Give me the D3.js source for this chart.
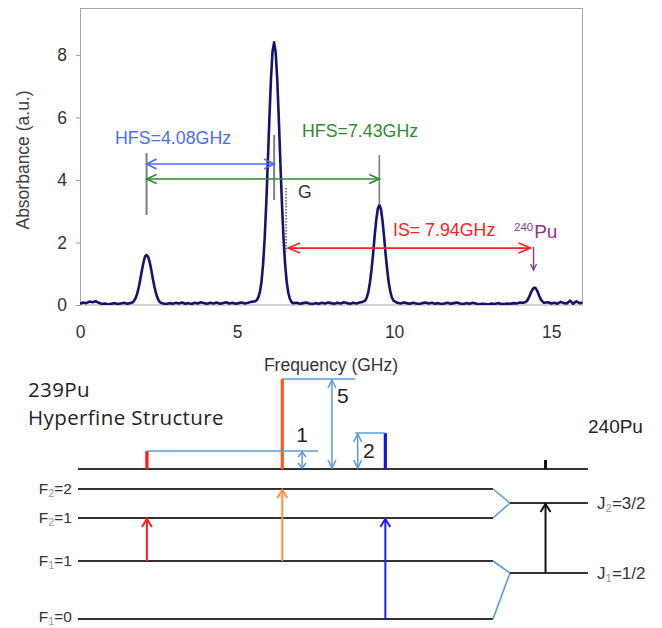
<!DOCTYPE html>
<html><head><meta charset="utf-8">
<script src="https://cdn.jsdelivr.net/npm/d3@7"></script>
<style>body{margin:0;background:#fff}svg{display:block}</style>
</head><body>
<svg id="chart" width="662" height="628"></svg>
<script>
// Absorption spectrum of Pu (frequency offset in GHz vs absorbance)
const freqGHz = [
  0.0,0.1,0.2,0.3,0.4,0.5,0.6,0.7,0.8,0.9,1.0,1.1,1.2,1.3,1.4,1.5,1.6,
  1.67,1.72,1.77,1.82,1.87,1.92,1.97,2.02,2.07,2.12,2.17,2.22,2.27,2.32,2.37,2.42,2.47,2.52,2.57,
  2.65,2.75,2.85,2.95,3.05,3.15,3.25,3.35,3.45,3.55,3.65,3.75,3.85,3.95,4.05,4.15,4.25,4.35,4.45,4.55,4.65,4.75,4.85,4.95,5.05,5.15,5.25,5.35,5.45,
  5.58,5.63,5.68,5.73,5.78,5.83,5.88,5.93,5.98,6.03,6.08,6.13,6.18,6.23,6.28,6.33,6.38,6.43,6.48,6.53,6.58,6.63,6.68,6.73,6.78,
  6.9,7.0,7.1,7.2,7.3,7.4,7.5,7.6,7.7,7.8,7.9,8.0,8.1,8.2,8.3,8.4,8.5,8.6,8.7,8.8,8.9,9.0,
  9.08,9.13,9.18,9.23,9.28,9.33,9.38,9.43,9.48,9.53,9.58,9.63,9.68,9.73,9.78,9.83,9.88,9.93,9.98,
  10.1,10.2,10.3,10.4,10.5,10.6,10.7,10.8,10.9,11.0,11.1,11.2,11.3,11.4,11.5,11.6,11.7,11.8,11.9,12.0,
  12.1,12.2,12.3,12.4,12.5,12.6,12.7,12.8,12.9,13.0,13.1,13.2,13.3,13.4,13.5,13.6,13.7,13.8,13.9,14.0,14.1,
  14.17,14.22,14.27,14.32,14.37,14.42,14.47,14.52,14.57,14.62,14.67,14.72,14.77,
  14.9,15.0,15.1,15.2,15.3,15.4,15.5,15.6,15.7,15.8,15.9,16.0
];
const absorbance = [
  0.04,0.08,0.06,0.11,0.09,0.12,0.07,0.03,0.05,0.02,0.04,0.06,0.03,0.05,0.07,0.04,0.06,
  0.08,0.13,0.22,0.36,0.57,0.82,1.10,1.36,1.55,1.60,1.54,1.37,1.12,0.83,0.58,0.37,0.22,0.12,0.07,
  0.05,0.03,0.06,0.04,0.07,0.05,0.08,0.04,0.06,0.03,0.07,0.05,0.09,0.06,0.04,0.07,0.05,0.08,0.04,0.06,0.09,0.05,0.07,0.04,0.06,0.08,0.05,0.07,0.10,
  0.12,0.16,0.25,0.43,0.76,1.32,2.15,3.26,4.58,5.99,7.25,8.12,8.40,8.08,7.20,5.93,4.52,3.22,2.12,1.30,0.74,0.40,0.20,0.10,0.06,
  0.07,0.04,0.06,0.08,0.05,0.03,0.06,0.04,0.07,0.05,0.08,0.06,0.04,0.07,0.05,0.09,0.06,0.04,0.07,0.05,0.08,0.10,
  0.14,0.24,0.42,0.72,1.12,1.63,2.20,2.71,3.08,3.20,3.07,2.70,2.19,1.62,1.12,0.71,0.42,0.24,0.14,
  0.07,0.05,0.08,0.06,0.04,0.07,0.05,0.03,0.06,0.08,0.05,0.07,0.04,0.06,0.03,0.05,0.07,0.04,0.06,0.08,
  0.05,0.03,0.06,0.04,0.07,0.05,0.02,0.04,0.03,0.02,0.05,0.03,0.06,0.04,0.03,0.05,0.04,0.06,0.05,0.08,0.07,
  0.09,0.12,0.20,0.31,0.43,0.52,0.56,0.52,0.42,0.29,0.18,0.11,0.07,
  0.09,0.05,0.07,0.04,0.10,0.06,0.05,0.14,0.04,0.12,0.06,0.07
];
const xTicks = [0, 5, 10, 15];
const yTicks = [0, 2, 4, 6, 8];

// Peak positions (GHz) and their heights: 239Pu a, b, c and 240Pu
const peakFreq = [2.12, 6.18, 9.53, 14.47];
const peakAbs  = [1.60, 8.40, 3.20, 0.56];
const hfsText = ["HFS=4.08GHz", "HFS=7.43GHz"];
const isText = "IS= 7.94GHz";
const gFreq = 6.56;

// Stick spectrum of the 239Pu hyperfine components (relative strengths 1 : 5 : 2)
const stickFreq = [2.13, 6.44, 9.72];
const stickRatio = [1, 5, 2];
const stickLabel = ["1", "5", "2"];
const pu240Freq = 14.82;

const svg = d3.select("#chart");
const FONT = "'Liberation Sans', Arial, sans-serif";
const x = d3.scaleLinear().domain([0, 16]).range([80, 582.6]);
const y = d3.scaleLinear().domain([0, 9.5]).range([305, 8]);

// open chevron arrow head; (dx,dy) is the direction of travel
function head(g, tx, ty, dx, dy, len, half, color, w) {
  const bx = tx - dx * len, by = ty - dy * len;
  const px = -dy, py = dx;
  g.append("path")
    .attr("d", `M${bx + px * half},${by + py * half}L${tx},${ty}L${bx - px * half},${by - py * half}`)
    .attr("fill", "none").attr("stroke", color).attr("stroke-width", w)
    .attr("stroke-linejoin", "miter");
}
function hArrow(g, x1, x2, yy, color, w, len, half, both) {
  g.append("line").attr("x1", x1).attr("x2", x2).attr("y1", yy).attr("y2", yy)
    .attr("stroke", color).attr("stroke-width", w);
  head(g, x2, yy, 1, 0, len, half, color, w);
  if (both) head(g, x1, yy, -1, 0, len, half, color, w);
}
function vArrow(g, xx, y1, y2, color, w, len, half, both) {
  g.append("line").attr("x1", xx).attr("x2", xx).attr("y1", y1).attr("y2", y2)
    .attr("stroke", color).attr("stroke-width", w);
  const d = y2 < y1 ? -1 : 1;
  head(g, xx, y2, 0, d, len, half, color, w);
  if (both) head(g, xx, y1, 0, -d, len, half, color, w);
}

// ---------- spectrum panel ----------
const panel = svg.append("g").attr("font-family", FONT);
panel.append("defs").append("clipPath").attr("id", "plotClip")
  .append("rect").attr("x", 80).attr("y", 8).attr("width", 502.6).attr("height", 297);

panel.append("rect").attr("x", 80.5).attr("y", 8.5).attr("width", 502).attr("height", 296.5)
  .attr("fill", "none").attr("stroke", "#a6a6a6").attr("stroke-width", 1);

const yAxis = panel.append("g").attr("transform", "translate(80,0)")
  .call(d3.axisLeft(y).tickValues(yTicks).tickSize(4).tickPadding(9).tickFormat(d3.format("d")));
yAxis.select(".domain").remove();
yAxis.selectAll("line").attr("stroke", "#999");
yAxis.selectAll("text").attr("font-size", 17.5).attr("fill", "#333").attr("font-family", FONT);

const xAxis = panel.append("g").attr("transform", "translate(0,305)")
  .call(d3.axisBottom(x).tickValues(xTicks).tickSize(0).tickPadding(21).tickFormat(d3.format("d")));
xAxis.select(".domain").remove();
xAxis.selectAll("text").attr("font-size", 17.5).attr("fill", "#333").attr("font-family", FONT);

panel.append("text").attr("transform", "translate(29,160) rotate(-90)")
  .attr("text-anchor", "middle").attr("font-size", 17.5).attr("fill", "#404040")
  .text("Absorbance (a.u.)");
panel.append("text").attr("x", 331).attr("y", 371).attr("text-anchor", "middle")
  .attr("font-size", 17.5).attr("fill", "#333").text("Frequency (GHz)");

// spectrum trace
const spec = d3.zip(freqGHz, absorbance);
panel.append("path").datum(spec)
  .attr("clip-path", "url(#plotClip)")
  .attr("d", d3.line().x(d => x(d[0])).y(d => y(d[1])))
  .attr("fill", "none").attr("stroke", "#14146e").attr("stroke-width", 2.6)
  .attr("stroke-linejoin", "round");

// annotations
const ann = panel.append("g");
const gray = "#7f7f7f";
ann.append("line").attr("x1", x(peakFreq[0])).attr("x2", x(peakFreq[0]))
  .attr("y1", y(4.86)).attr("y2", y(2.88)).attr("stroke", gray).attr("stroke-width", 2);
ann.append("line").attr("x1", x(peakFreq[1])).attr("x2", x(peakFreq[1]))
  .attr("y1", y(5.44)).attr("y2", y(3.36)).attr("stroke", gray).attr("stroke-width", 2);
ann.append("line").attr("x1", x(peakFreq[2])).attr("x2", x(peakFreq[2]))
  .attr("y1", y(4.80)).attr("y2", y(peakAbs[2])).attr("stroke", gray).attr("stroke-width", 1.6);
ann.append("line").attr("x1", x(gFreq)).attr("x2", x(gFreq))
  .attr("y1", y(3.74)).attr("y2", y(1.70)).attr("stroke", "#555")
  .attr("stroke-width", 1.5).attr("stroke-dasharray", "1.5,1.5");

const blue = "#4a6cf5", green = "#2e8b2e", red = "#ff2020", purple = "#8a3a86";
hArrow(ann, x(peakFreq[0]), x(peakFreq[1]), y(4.51), blue, 1.6, 10, 5, true);
hArrow(ann, x(peakFreq[0]), x(peakFreq[2]), y(4.03), green, 1.6, 10, 4.5, true);
hArrow(ann, x(gFreq) + 2, x(peakFreq[3]) - 4, y(1.82), red, 1.6, 12, 5, true);
vArrow(ann, x(peakFreq[3]) - 1, y(1.86), y(1.12), purple, 1.4, 6, 3, false);

ann.append("text").attr("x", 115).attr("y", 144).attr("font-size", 17.8).attr("fill", blue).text(hfsText[0]);
ann.append("text").attr("x", 302).attr("y", 137).attr("font-size", 17.8).attr("fill", green).text(hfsText[1]);
ann.append("text").attr("x", 393).attr("y", 236).attr("font-size", 17.8).attr("fill", red).text(isText);
ann.append("text").attr("x", 298).attr("y", 198).attr("font-size", 17.5).attr("fill", "#333").text("G");
const puT = ann.append("text").attr("x", 514).attr("y", 238).attr("fill", purple);
puT.append("tspan").attr("font-size", 11.5).attr("dy", -7).text("240");
puT.append("tspan").attr("font-size", 19).attr("dy", 7).attr("dx", 1).text("Pu");

// ---------- hyperfine level diagram ----------
const L = { ref: 469, F22: 489, F21: 518, J2: 503, F11: 561, J1: 573, F10: 619,
            left: 78, split: 493, merge: 510, right: 588 };
const dg = svg.append("g").attr("font-family", FONT);
const dark = "#333", lightBlue = "#5b9bd5";

// frequency reference line and F/J levels
dg.append("line").attr("x1", L.left).attr("x2", L.right).attr("y1", L.ref).attr("y2", L.ref)
  .attr("stroke", dark).attr("stroke-width", 2);
[["F22", "J2"], ["F21", "J2"], ["F11", "J1"], ["F10", "J1"]].forEach(([f, j]) => {
  dg.append("line").attr("x1", L.left).attr("x2", L.split).attr("y1", L[f]).attr("y2", L[f])
    .attr("stroke", dark).attr("stroke-width", 2);
  dg.append("line").attr("x1", L.split).attr("x2", L.merge).attr("y1", L[f]).attr("y2", L[j])
    .attr("stroke", lightBlue).attr("stroke-width", 1.6);
});
["J2", "J1"].forEach(j => dg.append("line").attr("x1", L.merge).attr("x2", L.right)
  .attr("y1", L[j]).attr("y2", L[j]).attr("stroke", dark).attr("stroke-width", 2));

// level labels with subscripts
[["F", "2", "=2", L.F22], ["F", "2", "=1", L.F21], ["F", "1", "=1", L.F11], ["F", "1", "=0", L.F10 - 2]]
  .forEach(([a, s, b, yy]) => {
    const t = dg.append("text").attr("x", 72).attr("y", yy + 5).attr("text-anchor", "end")
      .attr("font-size", 15.5).attr("fill", "#333");
    t.append("tspan").text(a);
    t.append("tspan").attr("font-size", 11).attr("dy", 3).attr("fill", "#999").text(s);
    t.append("tspan").attr("dy", -3).text(b);
  });
[["J", "2", "=3/2", L.J2], ["J", "1", "=1/2", L.J1]].forEach(([a, s, b, yy]) => {
  const t = dg.append("text").attr("x", 597).attr("y", yy + 6)
    .attr("font-size", 17).attr("fill", "#333");
  t.append("tspan").text(a);
  t.append("tspan").attr("font-size", 11.5).attr("dy", 3).attr("fill", "#999").text(s);
  t.append("tspan").attr("dy", -3).text(b);
});

// stick spectrum: height proportional to relative strength
const sy = d3.scaleLinear().domain([0, 5]).range([L.ref, L.ref - 90]);
const stickColor = ["#ff1a1a", "#ff5a14", "#1212f0"];
stickFreq.forEach((f, i) => {
  dg.append("line").attr("x1", x(f)).attr("x2", x(f)).attr("y1", L.ref).attr("y2", sy(stickRatio[i]))
    .attr("stroke", stickColor[i]).attr("stroke-width", 3.2);
});
dg.append("line").attr("x1", x(pu240Freq)).attr("x2", x(pu240Freq))
  .attr("y1", L.ref).attr("y2", L.ref - 9).attr("stroke", "#111").attr("stroke-width", 3);

// ratio brackets
const ratioX = [7.07, 8.02, 8.84];
dg.append("line").attr("x1", x(stickFreq[0])).attr("x2", x(7.58))
  .attr("y1", sy(stickRatio[0])).attr("y2", sy(stickRatio[0])).attr("stroke", lightBlue).attr("stroke-width", 1.5);
dg.append("line").attr("x1", x(stickFreq[1])).attr("x2", x(8.76))
  .attr("y1", sy(stickRatio[1])).attr("y2", sy(stickRatio[1])).attr("stroke", lightBlue).attr("stroke-width", 1.5);
dg.append("line").attr("x1", x(8.76)).attr("x2", x(stickFreq[2]))
  .attr("y1", sy(stickRatio[2])).attr("y2", sy(stickRatio[2])).attr("stroke", lightBlue).attr("stroke-width", 1.5);
stickRatio.forEach((r, i) => {
  const len = r === 1 ? 5 : 8;
  vArrow(dg, x(ratioX[i]), L.ref - 1, sy(r) + 1, lightBlue, 1.5, len, 4, true);
});
dg.append("text").attr("x", x(ratioX[0])).attr("y", 442).attr("text-anchor", "middle")
  .attr("font-size", 21).attr("fill", "#222").text(stickLabel[0]);
dg.append("text").attr("x", 337).attr("y", 403).attr("font-size", 21).attr("fill", "#222").text(stickLabel[1]);
dg.append("text").attr("x", 363).attr("y", 458).attr("font-size", 21).attr("fill", "#222").text(stickLabel[2]);

// optical transitions
const trFrom = ["F11", "F11", "F10"], trTo = ["F21", "F22", "F21"];
const trColor = ["#ff1f1f", "#ff9040", "#1f1ff5"];
stickFreq.forEach((f, i) => vArrow(dg, x(f), L[trFrom[i]], L[trTo[i]] + 1, trColor[i], 2, 8, 5, false));
vArrow(dg, x(pu240Freq), L.J1, L.J2 + 1, "#111", 2, 8, 5, false);

// titles
const cal = "'Open Sans', 'Noto Sans', sans-serif";
dg.append("text").attr("x", 28).attr("y", 397).attr("font-family", cal).attr("font-size", 20.5)
  .attr("letter-spacing", 0.4).attr("fill", "#222").text("239Pu");
dg.append("text").attr("x", 28).attr("y", 425).attr("font-family", cal).attr("font-size", 20.5)
  .attr("letter-spacing", 0.4).attr("fill", "#222").text("Hyperfine Structure");
dg.append("text").attr("x", 588).attr("y", 433).attr("font-size", 19)
  .attr("fill", "#222").text("240Pu");
</script>
</body></html>
